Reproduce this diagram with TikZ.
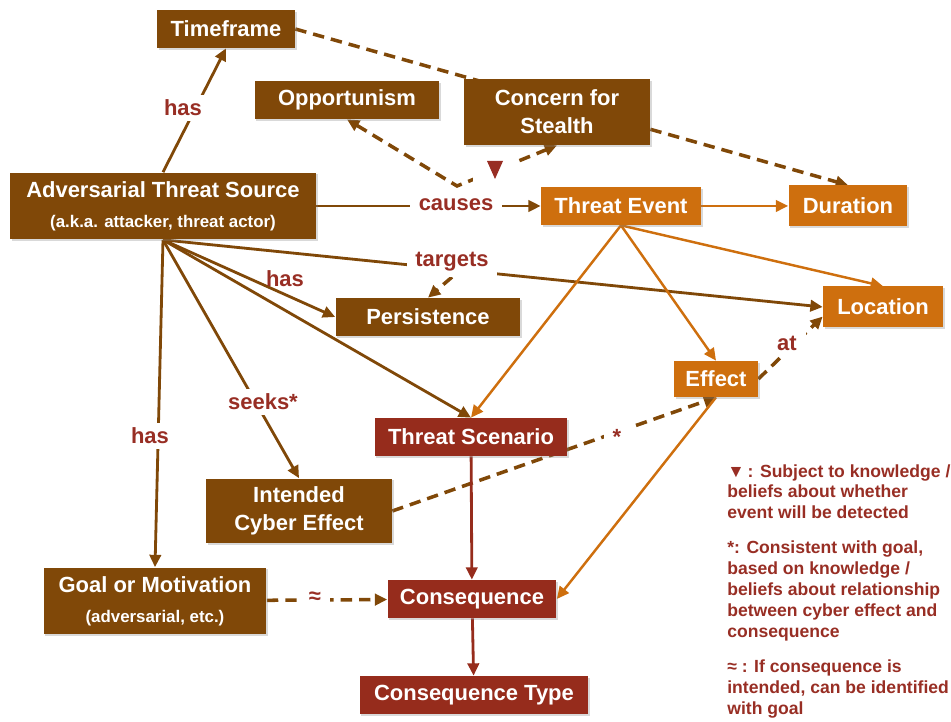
\documentclass[tikz,border=0pt]{standalone}
\usepackage{fontspec}
\setmainfont{Liberation Sans}
\usepackage{tikz}
\usetikzlibrary{arrows.meta, positioning, backgrounds, shadows, calc}

\definecolor{advbrown}{RGB}{128,72,8}
\definecolor{evorange}{RGB}{206,111,14}
\definecolor{scenred}{RGB}{150,44,28}
\definecolor{lblred}{RGB}{152,46,36}

\newcommand{\boxfont}{\fontsize{12.5}{16}\selectfont\bfseries}
\newcommand{\subfont}{\fontsize{9.6}{12}\selectfont\bfseries}
\newcommand{\lblfont}{\fontsize{12.5}{15}\selectfont\bfseries}
\newcommand{\notefont}{\fontsize{10}{11.9}\selectfont\bfseries}

\begin{document}
\begin{tikzpicture}[
    x=0.02cm, y=-0.02cm,
    >={Triangle[length=7pt,width=6.5pt]},
    box/.style={rectangle, inner sep=0pt, align=center, text=white, font=\boxfont,
        drop shadow={opacity=0.3, shadow xshift=1pt, shadow yshift=-1pt}},
    srcbox/.style={box, fill=advbrown},
    evbox/.style={box, fill=evorange},
    scbox/.style={box, fill=scenred},
    lbl/.style={fill=white, text=lblred, font=\lblfont, inner xsep=5pt, inner ysep=3pt},
    link/.style={->, line width=1.6pt, draw=advbrown},
    evlink/.style={->, line width=1.4pt, draw=evorange},
    sclink/.style={->, line width=1.6pt, draw=scenred},
    dlink/.style={->, line width=2pt, draw=advbrown, dash pattern=on 6.5pt off 4pt}
]
\useasboundingbox (0,0) rectangle (951,722);

% Boxes
\node[srcbox, minimum width=2.76cm, minimum height=0.76cm] (tframe) at (226,29) {Timeframe};
\node[srcbox, minimum width=3.70cm, minimum height=0.76cm] (opp) at (347,100) {Opportunism};
\node[srcbox, minimum width=3.72cm, minimum height=1.32cm] (stealth) at (557,112) {Concern for\\Stealth};
\node[srcbox, minimum width=6.12cm, minimum height=1.34cm] (ats) at (163,206) {Adversarial Threat Source\\[1.3pt]{\subfont (a.k.a. attacker, threat actor)}};
\node[evbox, minimum width=3.20cm, minimum height=0.76cm] (tevent) at (621,206) {Threat Event};
\node[evbox, minimum width=2.38cm, minimum height=0.82cm] (dur) at (848,206) {Duration};
\node[evbox, minimum width=2.40cm, minimum height=0.82cm] (loc) at (883,307) {Location};
\node[srcbox, minimum width=3.70cm, minimum height=0.76cm] (pers) at (428,317) {Persistence};
\node[evbox, minimum width=1.68cm, minimum height=0.72cm] (eff) at (716,379) {Effect};
\node[scbox, minimum width=3.86cm, minimum height=0.76cm] (tscen) at (471,437) {Threat Scenario};
\node[srcbox, minimum width=3.72cm, minimum height=1.30cm] (ice) at (299,511) {Intended\\Cyber Effect};
\node[srcbox, minimum width=4.46cm, minimum height=1.34cm] (goal) at (155,601) {Goal or Motivation\\[1.3pt]{\subfont (adversarial, etc.)}};
\node[scbox, minimum width=3.38cm, minimum height=0.76cm] (cons) at (472,599) {Consequence};
\node[scbox, minimum width=4.58cm, minimum height=0.76cm] (ctype) at (474,695) {Consequence Type};

% Labels
\node[lbl] (hastf) at (183,108) {has};
\node[lbl] (causes) at (456,205) {causes};
\node[lbl] (tgt) at (452,262) {targets};
\node[lbl, fill=none] (haspers) at (285,279) {has};
\node[lbl] (seeks) at (263,402) {seeks*};
\node[lbl] (hasgoal) at (150,436) {has};
\node[lbl] (atlbl) at (787,343) {at};
\node[lbl] (star) at (617,437) {*};
\node[lbl] (approx) at (315,598) {≈};
\node[fill=white, minimum width=0.9cm, minimum height=0.8cm] (tri) at (495,170) {};
\fill[lblred] ($(tri)+(-8,-9)$) -- ($(tri)+(8,-9)$) -- ($(tri)+(0,9)$) -- cycle;

% Notes
\node[anchor=north west, text=lblred, font=\notefont, align=left, inner sep=0pt] (notes) at (727,464)
  {▼\,: Subject to knowledge /\\beliefs about whether\\event will be detected\\[8pt]
   *: Consistent with goal,\\based on knowledge /\\beliefs about relationship\\between cyber effect and\\consequence\\[8pt]
   ≈ : If consequence is\\intended, can be identified\\with goal};

% Connectors
\begin{pgfonlayer}{background}
\draw[link] (ats.north) -- (tframe.south);
\draw[link] (ats) -- (tevent);
\draw[link] (ats.south) -- (loc.west);
\draw[link] (ats.south) -- (pers.west);
\draw[link] (ats.south) -- (tscen.north);
\draw[link] (ats.south) -- (ice.north);
\draw[link] (ats.south) -- (goal.north);
\coordinate (fork) at (457,186);
\draw[dlink] (tframe.east) -- (dur.north);
\draw[dlink, <->] (opp.south) -- (fork) -- (stealth.south);
\draw[dlink] (tgt.south) -- (pers.north);
\draw[evlink] (tevent) -- (dur);
\draw[evlink] (tevent.south) -- (loc.north);
\draw[evlink] (tevent.south) -- (eff.north);
\draw[evlink] (tevent.south) -- (tscen.north);
\draw[dlink] (eff.east) -- (loc.189);
\draw[dlink] (ice.east) -- (eff.south);
\draw[evlink] (eff.south) -- (cons.east);
\draw[dlink] (goal) -- (cons);
\draw[sclink] (tscen) -- (cons);
\draw[sclink] (cons) -- (ctype);
\end{pgfonlayer}
\end{tikzpicture}
\end{document}
